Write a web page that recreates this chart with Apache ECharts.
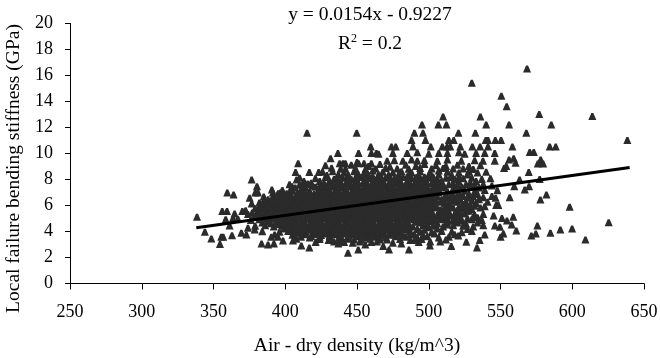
<!DOCTYPE html>
<html>
<head>
<meta charset="utf-8">
<style>html,body{margin:0;padding:0;background:#fff}#plot{width:660px;height:358px}</style>
<script src="https://cdn.jsdelivr.net/npm/echarts@6/dist/echarts.min.js"></script>
</head>
<body>
<div id="plot"></div>
<script>
var yTicks = [0, 2, 4, 6, 8, 10, 12, 14, 16, 18, 20];
var xTitle = 'Air - dry density (kg/m^3)';
var yTitle = 'Local failure bending stiffness (GPa)';

// trendline ends, [density, stiffness]
var trend = [[338, 4.28], [640, 8.93]];

// points read from the sparse top of the cloud
var topPoints = [
    [568.5,16.5],[530,15.4],[550.6,14.4],[554.3,13.6],[510,12.8],[536,12.8],[577,13],[614,12.84],
    [495.3,12.2],[506.7,12.2],[512.3,12.2],[540,12.2],[556,12.2],[585.4,12.2],
    [490,11.55],[496,11.55],[520.7,11.55],[532.5,11.55],[568,11.55],[415.2,11.55],[449.8,11.55],
    [488,11],[497.7,11],[514,11],[517.4,11],[539.7,11],[541.3,11],[546.4,11],[550.4,11],[638.4,11],
    [459.6,10.5],[474,10.5],[477,10.5],[489,10.5],[501.4,10.5],[509.5,10.5],[512.8,10.5],[515,10.5],
    [522,10.5],[530.4,10.5],[535.8,10.5],[541.3,10.5],[558.3,10.5],[584.3,10.5],[588.5,10.5],
    [436.7,10],[451.1,10],[463.5,10],[570.4,10.07],[573.2,10.07],[431.6,9.6],[409,9.22],[437.9,9.22],[440.2,9.22],
    [441.9,9.22],[451.1,9.22],[454.9,9.22],[460,9.22],[432.3,8.86],[438.6,8.79],[407.2,8.53],
    [416.8,8.53],[423.3,8.53],[569.7,8.53],[554,9],[578,9.5],[578,9.25],[576,9.2],[579.7,9.2],[560.5,9.25],[559.2,9.6],
    [556,9.5],[552.5,8.85],
    [460,10],[465,9.95],[475,10],[485,10],[492,10.05],[500,9.95],[507,10],[513,10],[521,10.05],[525,9.95],[533,10],[539,10],[546,10],
    [471,9.4],[476,9.45],[482,9.4],[488,9.5],[492,9.4],[497,9.45],[506,9.4],[513,9.5],[522.7,9.4],[532,9.45],[537.8,9.4],[546,9.4]
];

// sparse left edge
var leftPoints = [
    [407.9,7.96],[376.6,7.96],[415.6,7.66],[380.3,7.45],[359.6,6.96],[364,6.81],[379.1,6.96],[381,6.96],
    [390.7,7.2],[391.4,6.96],[396.6,6.96],[404.7,7.45],[403,6.96],[375.2,6.55],[376.6,6.12],[338.5,5.1],
    [356.1,5.53],[359.4,5.53],[370.1,5.53],[372.4,5.6],[364.7,5.35],[363.6,5],[358.5,4.9],[367,4.94],
    [361.2,4.43],[344,3.94],[348.5,3.43],[355.4,3.55],[356.8,3.55],[354.5,3],[362.9,3.68],[369.4,3.86],
    [372.9,3.73],[374,4.25],[378.7,4.12],[384,3.99]
];

// sparse underside of the cloud
var bottomPoints = [
    [383.5,3.04],[388,2.96],[392.1,3.04],[398.4,3.27],[390.3,3.55],[392.6,3.73],[394.9,3.55],[405.4,3.27],
    [411.2,2.89],[416.8,2.73],[421.2,3.15],[407.7,3.4],[443.7,2.32],[450.9,2.58],[437,3.04],[430.2,3.3],
    [455.8,2.96],[460,3.15],[463.9,3.2],[468.3,2.84],[472.3,2.58],[480.9,3.04],[486.2,2.58],[487.1,3.3],
    [500.8,2.89],[501,3.2],[515.7,2.84],[526.2,3.17],[533.6,2.73],[535.5,3.3],[550.1,3.55],[552,3.8],
    [539,3.73],[571.5,3.66],[574.6,3.8],[584.8,3.86],[591.7,4.12],[520.6,3.66],[561,4.04]
];

// sparse right edge
var rightPoints = [
    [546.1,4.43],[549.6,4.32],[557.8,4.5],[575.7,4.43],[545.2,5.2],[551,5],[554.5,4.81],[558.9,5.1],
    [539,5.9],[577.8,6.43],[582,6.81],[598.2,5.86],[556.4,6.6],[547,6],[548.5,6],[546.6,6.55],[547.8,7.14],
    [566.9,7.2],[569.9,7.45],[559.6,7.45],[563.3,7.96],[577.3,8],[599.9,4.2],[609.2,3.35],[625.4,4.68]
];

// the dense body of the cloud, upper part
var upperCloud = [
    [428,9.05],[446,9.1],[458,9],[466,9.15],[473,8.95],[484,9.1],[491,9],[497,9.15],[505,9.05],[512,9],[520,9.1],[528,9],[536,9.05],
    [426,8.55],[433,8.6],[441,8.5],[448,8.6],[455,8.5],[461,8.65],[468,8.55],[475,8.5],[481,8.6],[488,8.5],[494,8.6],[501,8.5],[507,8.65],[513,8.55],[521,8.5],[528,8.6],[534,8.5],[540,8.55],
    [410,8.1],[421,8.05],[428,8.15],[434,8],[440,8.1],[446,8],[452,8.15],[458,8.05],[464,8],[470,8.1],[476,8],[482,8.15],[488,8.05],[494,8],[500,8.1],[506,8],[512,8.1],[518,8],[524,8.05],[530,8.1],[537,8],[543,8.05],
    [403,7.6],[410,7.55],[418,7.6],[424,7.5],[430,7.65],[436,7.55],[442,7.6],[448,7.5],[454,7.65],[460,7.55],[466,7.6],[472,7.5],[478,7.65],[484,7.55],[490,7.6],[496,7.5],[502,7.65],[508,7.55],[514,7.6],[520,7.5],[526,7.6],[532,7.55],[538,7.6],[544,7.5],
    [398,7.15],[405,7.1],[411,7.2],[417,7.05],[423,7.15],[429,7.1],[435,7.2],[441,7.05],[447,7.15],[453,7.1],[459,7.2],[465,7.05],[471,7.15],[477,7.1],[483,7.2],[489,7.05],[495,7.15],[501,7.1],[507,7.2],[513,7.05],[519,7.15],[525,7.1],[532,7.05],[539,7.15],
    [385,6.65],[392,6.7],[398,6.6],[404,6.7],[410,6.65],[416,6.7],[422,6.6],[428,6.7],[434,6.65],[440,6.7],[446,6.6],[452,6.7],[458,6.65],[464,6.7],[470,6.6],[476,6.7],[482,6.65],[488,6.7],[494,6.6],[500,6.7],[506,6.65],[512,6.7],[518,6.6],[524,6.7],[531,6.65],[538,6.6],[544,6.7],
    [382,6.2],[388,6.25],[394,6.15],[400,6.25],[406,6.2],[412,6.25],[418,6.15],[424,6.25],[430,6.2],[436,6.25],[442,6.15],[448,6.25],[454,6.2],[460,6.25],[466,6.15],[472,6.25],[478,6.2],[484,6.25],[490,6.15],[496,6.25],[502,6.2],[508,6.25],[514,6.15],[520,6.25],[526,6.2],[533,6.15],[541,6.25]
];

// the dense body of the cloud, lower part
var lowerCloud = [
    [379,5.75],[385,5.8],[391,5.7],[397,5.8],[403,5.75],[409,5.8],[415,5.7],[421,5.8],[427,5.75],[433,5.8],[439,5.7],[445,5.8],[451,5.75],[457,5.8],[463,5.7],[469,5.8],[475,5.75],[481,5.8],[487,5.7],[493,5.8],[499,5.75],[505,5.8],[511,5.7],[517,5.8],[523,5.75],[530,5.7],[536,5.8],
    [374,5.3],[380,5.35],[386,5.25],[392,5.35],[398,5.3],[404,5.35],[410,5.25],[416,5.35],[422,5.3],[428,5.35],[434,5.25],[440,5.35],[446,5.3],[452,5.35],[458,5.25],[464,5.35],[470,5.3],[476,5.35],[482,5.25],[488,5.35],[494,5.3],[500,5.35],[506,5.25],[512,5.35],[518,5.3],[525,5.35],[532,5.25],[538,5.3],
    [376,4.85],[382,4.9],[388,4.8],[394,4.9],[400,4.85],[406,4.9],[412,4.8],[418,4.9],[424,4.85],[430,4.9],[436,4.8],[442,4.9],[448,4.85],[454,4.9],[460,4.8],[466,4.9],[472,4.85],[478,4.9],[484,4.8],[490,4.9],[496,4.85],[503,4.8],[510,4.9],[517,4.85],[523,4.8],[530,4.9],[537,4.85],
    [379,4.4],[386,4.45],[392,4.35],[398,4.45],[404,4.4],[410,4.45],[416,4.35],[422,4.45],[428,4.4],[434,4.45],[440,4.35],[446,4.45],[452,4.4],[458,4.45],[464,4.35],[470,4.45],[476,4.4],[482,4.45],[489,4.35],[496,4.45],[503,4.4],[510,4.35],[517,4.45],[524,4.4],[531,4.35],[538,4.45],
    [396,3.95],[402,4],[408,3.9],[414,4],[420,3.95],[426,4],[432,3.9],[438,4],[444,3.95],[450,4],[456,3.9],[462,4],[468,3.95],[474,4],[480,3.9],[487,4],[494,3.95],[502,3.9],[509,4],[516,3.95],[523,3.9],[530,4],
    [411,3.55],[417,3.5],[424,3.55],[431,3.6],[438,3.5],[444,3.55],[450,3.6],[456,3.5],[463,3.55],[470,3.5],[477,3.6],[484,3.55],[492,3.5],[499,3.6],[507,3.5],[514,3.55],
    [434,3.2],[441,3.15],[447,3.1],[452,3.2],[475,3.1],[493,3.15],[508,3.2]
];

// filler between the rows above, where the cloud prints solid
var solidCore = [
    [450,9.3],[470,8.85],[478,8.8],[494,8.85],[502,8.8],[510,8.85],[524,8.8],
    [429,8.3],[437,8.35],[444,8.3],[451,8.35],[458,8.3],[465,8.35],[472,8.3],[479,8.35],[486,8.3],[493,8.35],[500,8.3],[507,8.35],[516,8.3],[527,8.35],
    [413,7.85],[424,7.85],[431,7.8],[437,7.85],[443,7.8],[449,7.85],[455,7.8],[461,7.85],[467,7.8],[473,7.85],[479,7.8],[485,7.85],[491,7.8],[497,7.85],[503,7.8],[509,7.85],[521,7.8],[533,7.85],
    [407,7.35],[414,7.35],[421,7.4],[427,7.35],[433,7.4],[439,7.35],[445,7.4],[451,7.35],[457,7.4],[463,7.35],[469,7.4],[475,7.35],[481,7.4],[487,7.35],[493,7.4],[499,7.35],[505,7.4],[511,7.35],[523,7.4],[535,7.35],
    [395,6.9],[401,6.9],[408,6.85],[414,6.9],[420,6.85],[426,6.9],[432,6.85],[438,6.9],[444,6.85],[450,6.9],[456,6.85],[462,6.9],[468,6.85],[474,6.9],[480,6.85],[486,6.9],[492,6.85],[498,6.9],[504,6.85],[516,6.9],[528,6.85],
    [388,6.45],[395,6.4],[401,6.45],[407,6.4],[413,6.45],[419,6.4],[425,6.45],[431,6.4],[437,6.45],[443,6.4],[449,6.45],[455,6.4],[461,6.45],[467,6.4],[473,6.45],[479,6.4],[485,6.45],[491,6.4],[497,6.45],[503,6.4],[509,6.45],[521,6.4],[535,6.45],
    [385,6],[391,5.95],[397,6],[403,5.95],[409,6],[415,5.95],[421,6],[427,5.95],[433,6],[439,5.95],[445,6],[451,5.95],[457,6],[463,5.95],[469,6],[475,5.95],[481,6],[487,5.95],[493,6],[499,5.95],[505,6],[515,5.95],[529,6],
    [382,5.55],[388,5.5],[394,5.55],[400,5.5],[406,5.55],[412,5.5],[418,5.55],[424,5.5],[430,5.55],[436,5.5],[442,5.55],[448,5.5],[454,5.55],[460,5.5],[466,5.55],[472,5.5],[478,5.55],[484,5.5],[490,5.55],[496,5.5],[502,5.55],[514,5.5],[528,5.55],
    [378,5.1],[384,5.05],[390,5.1],[396,5.05],[402,5.1],[408,5.05],[414,5.1],[420,5.05],[426,5.1],[432,5.05],[438,5.1],[444,5.05],[450,5.1],[456,5.05],[462,5.1],[468,5.05],[474,5.1],[480,5.05],[486,5.1],[492,5.05],[498,5.1],[508,5.05],[522,5.1],[534,5.05],
    [384,4.65],[390,4.6],[396,4.65],[402,4.6],[408,4.65],[414,4.6],[420,4.65],[426,4.6],[432,4.65],[438,4.6],[444,4.65],[450,4.6],[456,4.65],[462,4.6],[468,4.65],[474,4.6],[480,4.65],[486,4.6],[494,4.65],[506,4.6],[520,4.65],
    [399,4.2],[405,4.15],[411,4.2],[417,4.15],[423,4.2],[429,4.15],[435,4.2],[441,4.15],[447,4.2],[453,4.15],[459,4.2],[465,4.15],[471,4.2],[477,4.15],[483,4.2],[492,4.15],[506,4.2],[527,4.15],
    [414,3.75],[420,3.75],[427,3.8],[434,3.75],[441,3.8],[447,3.75],[453,3.8],[459,3.75],[466,3.8],[472,3.75],[480,3.8],[490,3.75],[504,3.8],[518,3.75],
    [437,3.35],[444,3.4],[448,3.35],[466,3.35],[490,3.3]
];

// third pass over the darkest part, roughly x 400-500
var darkCore = [
    [424,7.25],[430,7.28],[436,7.24],[442,7.27],[449,7.25],[455,7.28],[461,7.24],[467,7.27],[473,7.25],[479,7.28],[485,7.24],[491,7.27],[497,7.25],[503,7.28],[517,7.25],
    [411,6.98],[417,7],[423,6.96],[429,6.99],[435,7],[441,6.96],[447,6.99],[453,7],[459,6.96],[465,6.99],[471,7],[477,6.96],[483,6.99],[489,7],[495,6.96],[507,6.99],[521,7],
    [398,6.78],[404,6.8],[410,6.76],[416,6.79],[422,6.8],[428,6.76],[434,6.79],[440,6.8],[446,6.76],[452,6.79],[458,6.8],[464,6.76],[470,6.79],[476,6.8],[482,6.76],[488,6.79],[494,6.8],[500,6.76],[512,6.79],
    [391,6.55],[397,6.53],[403,6.56],[409,6.53],[415,6.55],[421,6.52],[427,6.56],[433,6.53],[439,6.55],[445,6.52],[451,6.56],[457,6.53],[463,6.55],[469,6.52],[475,6.56],[481,6.53],[487,6.55],[493,6.52],[499,6.56],[511,6.53],[527,6.55],
    [385,6.32],[391,6.34],[397,6.3],[403,6.33],[409,6.34],[415,6.3],[421,6.33],[427,6.34],[433,6.3],[439,6.33],[445,6.34],[451,6.3],[457,6.33],[463,6.34],[469,6.3],[475,6.33],[481,6.34],[487,6.3],[493,6.33],[499,6.34],[505,6.3],[517,6.33],[530,6.34],
    [388,6.1],[394,6.08],[400,6.11],[406,6.08],[412,6.1],[418,6.07],[424,6.11],[430,6.08],[436,6.1],[442,6.07],[448,6.11],[454,6.08],[460,6.1],[466,6.07],[472,6.11],[478,6.08],[484,6.1],[490,6.07],[496,6.11],[502,6.08],[511,6.1],[524,6.07],
    [382,5.88],[388,5.9],[394,5.86],[400,5.89],[406,5.9],[412,5.86],[418,5.89],[424,5.9],[430,5.86],[436,5.89],[442,5.9],[448,5.86],[454,5.89],[460,5.9],[466,5.86],[472,5.89],[478,5.9],[484,5.86],[490,5.89],[496,5.9],[502,5.86],[514,5.89],[526,5.9],
    [385,5.65],[391,5.63],[397,5.66],[403,5.63],[409,5.65],[415,5.62],[421,5.66],[427,5.63],[433,5.65],[439,5.62],[445,5.66],[451,5.63],[457,5.65],[463,5.62],[469,5.66],[475,5.63],[481,5.65],[487,5.62],[493,5.66],[499,5.63],[508,5.65],[520,5.62],
    [377,5.42],[383,5.44],[389,5.4],[395,5.43],[401,5.44],[407,5.4],[413,5.43],[419,5.44],[425,5.4],[431,5.43],[437,5.44],[443,5.4],[449,5.43],[455,5.44],[461,5.4],[467,5.43],[473,5.44],[479,5.4],[485,5.43],[491,5.44],[497,5.4],[509,5.43],[522,5.44],
    [381,5.2],[387,5.18],[393,5.21],[399,5.18],[405,5.2],[411,5.17],[417,5.21],[423,5.18],[429,5.2],[435,5.17],[441,5.21],[447,5.18],[453,5.2],[459,5.17],[465,5.21],[471,5.18],[477,5.2],[483,5.17],[489,5.21],[495,5.18],[503,5.2],[515,5.17],
    [385,4.98],[391,5],[397,4.96],[403,4.99],[409,5],[415,4.96],[421,4.99],[427,5],[433,4.96],[439,4.99],[445,5],[451,4.96],[457,4.99],[463,5],[469,4.96],[475,4.99],[481,5],[487,4.96],[493,4.99],[500,5],[513,4.96],[527,4.99],
    [388,4.75],[394,4.73],[400,4.76],[406,4.73],[412,4.75],[418,4.72],[424,4.76],[430,4.73],[436,4.75],[442,4.72],[448,4.76],[454,4.73],[460,4.75],[466,4.72],[472,4.76],[478,4.73],[484,4.75],[491,4.72],[500,4.76],[513,4.73],
    [395,4.52],[401,4.54],[407,4.5],[413,4.53],[419,4.54],[425,4.5],[431,4.53],[437,4.54],[443,4.5],[449,4.53],[455,4.54],[461,4.5],[467,4.53],[473,4.54],[479,4.5],[485,4.53],[499,4.54],[513,4.5],
    [402,4.3],[408,4.28],[414,4.31],[420,4.28],[426,4.3],[432,4.27],[438,4.31],[444,4.28],[450,4.3],[456,4.27],[462,4.31],[468,4.28],[474,4.3],[480,4.27],[486,4.31],[500,4.28],
    [411,4.08],[417,4.1],[423,4.06],[429,4.09],[435,4.1],[441,4.06],[447,4.09],[453,4.1],[459,4.06],[465,4.09],[471,4.1],[477,4.06],[484,4.09],[497,4.1],
    [423,3.85],[429,3.87],[436,3.83],[442,3.86],[448,3.87],[454,3.83],[460,3.86],[468,3.87],[476,3.83]
];

// last pass for the upper shoulder, the right flank and the underside
var shoulderPoints = [
    [442,8.78],[449,8.8],[456,8.76],[463,8.8],[486,8.78],[517,8.8],[531,8.76],
    [436,8.12],[443,8.18],[449,8.12],[455,8.18],[461,8.2],[467,8.14],[473,8.18],[479,8.12],[485,8.2],[491,8.14],[497,8.18],[503,8.2],[515,8.14],[521,8.18],
    [418,7.72],[427,7.7],[433,7.68],[439,7.72],[445,7.68],[451,7.72],[457,7.7],[463,7.68],[469,7.72],[475,7.7],[481,7.68],[487,7.72],[493,7.7],[499,7.68],[505,7.72],[517,7.7],[529,7.72],
    [413,7.45],[419,7.48],[425,7.45],[431,7.5],[437,7.46],[443,7.48],[449,7.45],[455,7.5],[461,7.46],[467,7.48],[473,7.45],[479,7.5],[485,7.46],[491,7.48],[497,7.45],[509,7.46],[529,7.45],
    [515,6.55],[521,6.8],[534,6.85],[510,6.3],[522,6.45],[513,6],[521,5.85],[532,5.95],[509,5.55],[519,5.45],[526,5.55],[512,5.1],[519,5.2],[531,5.1],[506,4.95],[520,4.95],[534,4.65],[512,4.6],[526,4.55],
    [405,3.72],[411,3.78],[418,3.62],[425,3.7],[431,3.68],[438,3.65],[444,3.68],[450,3.72],[456,3.64],[463,3.68],[469,3.64],[475,3.72],[482,3.68],[487,3.75],[496,3.7],
    [424,3.38],[431,3.42],[440,3.3],[453,3.35],[459,3.4],[471,3.35],[480,3.38],[495,3.38],[512,3.35]
];

var allPoints = topPoints.concat(leftPoints, bottomPoints, rightPoints, upperCloud, lowerCloud, solidCore, darkCore, shoulderPoints);

var chart = echarts.init(document.getElementById('plot'));
var serif = '"Liberation Serif", "Times New Roman", serif';

chart.setOption({
    animation: false,
    backgroundColor: '#fff',
    grid: { left: 70, right: 16, top: 23.5, bottom: 74.5, outerBoundsMode: 'none' },
    title: [
        {
            text: 'y = 0.0154x - 0.9227',
            left: 365, top: 0, textAlign: 'center',
            textStyle: { fontFamily: serif, fontSize: 19.5, fontWeight: 'normal', color: '#000' }
        },
        {
            text: 'R{sup|2} = 0.2',
            left: 365, top: 28, textAlign: 'center',
            textStyle: {
                fontFamily: serif, fontSize: 19.5, fontWeight: 'normal', color: '#000',
                rich: {
                    sup: { fontFamily: serif, fontSize: 12, verticalAlign: 'top', lineHeight: 22, color: '#000' }
                }
            }
        }
    ],
    xAxis: {
        type: 'value', min: 250, max: 650, interval: 50,
        name: xTitle, nameLocation: 'middle', nameGap: 52,
        nameTextStyle: { fontFamily: serif, fontSize: 19.5, color: '#000' },
        splitLine: { show: false },
        axisLine: { onZero: false, lineStyle: { color: '#000', width: 1 } },
        axisTick: { length: 6, lineStyle: { color: '#000' } },
        axisLabel: { fontFamily: serif, fontSize: 18, color: '#000', margin: 20 }
    },
    yAxis: {
        type: 'value', min: yTicks[0], max: yTicks[yTicks.length - 1], interval: 2,
        name: yTitle, nameLocation: 'middle', nameGap: 43,
        nameTextStyle: { fontFamily: serif, fontSize: 19.5, color: '#000', padding: [0, 30, 0, 0] },
        splitLine: { show: false },
        axisLine: { onZero: false, lineStyle: { color: '#000', width: 1 } },
        axisTick: { length: 5, lineStyle: { color: '#000' } },
        axisLabel: { fontFamily: serif, fontSize: 18, color: '#000', margin: 17 }
    },
    series: [
        {
            type: 'scatter', data: allPoints,
            symbol: 'path://M3 0 L5 0 L8 7 L0 7 Z', symbolSize: [8, 7],
            itemStyle: { color: '#2b2b2b', opacity: 1 }, silent: true
        },
        {
            type: 'line', data: trend, symbol: 'none',
            lineStyle: { color: '#000', width: 3 }, silent: true
        }
    ]
});
</script>
</body>
</html>
